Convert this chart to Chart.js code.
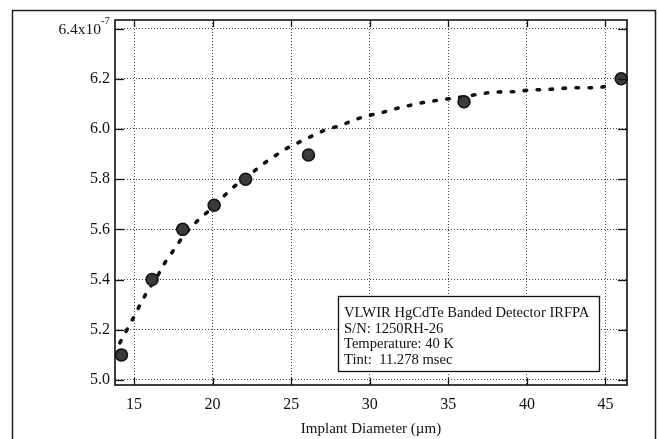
<!DOCTYPE html>
<html><head><meta charset="utf-8">
<script src="https://cdn.jsdelivr.net/npm/chart.js@4.4.0/dist/chart.umd.min.js"></script>
<style>html,body{margin:0;padding:0;background:#fff;}#wrap{width:658px;height:439px;}</style>
</head><body><div id="wrap"><canvas id="c" width="658" height="439"></canvas></div>
<script>
// Measured points (implant diameter in µm, value ×1e-7)
const pointX = [14.2, 16.15, 18.1, 20.1, 22.1, 26.1, 36.0, 46.0];
const pointY = [5.10, 5.40, 5.60, 5.696, 5.80, 5.896, 6.108, 6.20];
// Dashed fit curve
const curveX = [14.1, 14.55, 15.0, 15.45, 15.95, 16.46, 16.97, 17.6, 18.2, 19.0, 19.8, 20.5, 21.4, 22.2, 23.1, 23.85, 24.75, 25.6, 26.4, 27.3, 28.1, 29.0, 29.8, 30.7, 31.6, 32.4, 33.3, 34.1, 35.0, 36.0, 36.7, 37.5, 38.4, 39.3, 40.2, 41.0, 41.9, 42.8, 43.6, 44.5, 45.3];
const curveY = [5.148, 5.20, 5.252, 5.308, 5.364, 5.41, 5.468, 5.524, 5.58, 5.632, 5.676, 5.72, 5.772, 5.808, 5.856, 5.888, 5.924, 5.95, 5.974, 6.0, 6.012, 6.036, 6.052, 6.064, 6.08, 6.092, 6.104, 6.112, 6.12, 6.128, 6.136, 6.144, 6.148, 6.148, 6.156, 6.156, 6.16, 6.164, 6.164, 6.164, 6.172];
const xTicks = [15, 20, 25, 30, 35, 40, 45];
const yTicks = [5.0, 5.2, 5.4, 5.6, 5.8, 6.0, 6.2, 6.4];
const yTopLabel = '6.4x10';
const yTopExp = '-7';
const xTitle = 'Implant Diameter (\u00b5m)';
const legendLines = ['VLWIR HgCdTe Banded Detector IRFPA', 'S/N: 1250RH-26', 'Temperature: 40 K', 'Tint:  11.278 msec'];

const SERIF = '"Liberation Serif", "Times New Roman", serif';

const deco = {
  id: 'deco',
  beforeDraw(chart) {
    const ctx = chart.ctx;
    ctx.save(); ctx.fillStyle = '#fff'; ctx.fillRect(0, 0, chart.width, chart.height); ctx.restore();
  },
  afterDraw(chart) {
    const {ctx, chartArea: a, scales: {x, y}} = chart;
    const line = (x1, y1, x2, y2) => { ctx.beginPath(); ctx.moveTo(x1, y1); ctx.lineTo(x2, y2); ctx.stroke(); };
    ctx.save();
    // outer frame
    ctx.strokeStyle = '#222'; ctx.lineWidth = 1.5;
    ctx.beginPath(); ctx.moveTo(12.5, 445); ctx.lineTo(12.5, 10.5); ctx.lineTo(655.5, 10.5); ctx.lineTo(655.5, 445); ctx.stroke();
    // plot frame
    ctx.strokeStyle = '#111'; ctx.lineWidth = 1.6;
    ctx.strokeRect(a.left, a.top, a.right - a.left, a.bottom - a.top);
    // inward tick marks
    ctx.lineWidth = 1.3;
    xTicks.forEach(v => { const px = Math.round(x.getPixelForValue(v)) + 0.5; line(px, a.bottom, px, a.bottom - 7); line(px, a.top, px, a.top + 7); });
    yTicks.forEach(v => { const py = Math.round(y.getPixelForValue(v)) + 0.5; line(a.left, py, a.left + 9, py); line(a.right, py, a.right - 9, py); });
    // top y label with exponent
    const ty = y.getPixelForValue(6.4);
    ctx.fillStyle = '#111';
    ctx.font = '15.5px ' + SERIF; ctx.textAlign = 'right'; ctx.textBaseline = 'middle';
    ctx.fillText(yTopLabel, a.left - 14, ty + 1);
    ctx.font = '10.5px ' + SERIF; ctx.textAlign = 'left';
    ctx.fillText(yTopExp, a.left - 14, ty - 7);
    // legend box
    const bx = 338.5, by = 296.5, bw = 261, bh = 75;
    ctx.fillStyle = '#fff'; ctx.fillRect(bx, by, bw, bh);
    ctx.strokeStyle = '#111'; ctx.lineWidth = 1.3; ctx.strokeRect(bx, by, bw, bh);
    ctx.fillStyle = '#111'; ctx.font = '14.6px ' + SERIF; ctx.textAlign = 'left'; ctx.textBaseline = 'alphabetic';
    legendLines.forEach((t, i) => ctx.fillText(t, 344, 317 + i * 15.6));
    ctx.restore();
  }
};

new Chart(document.getElementById('c'), {
  type: 'scatter',
  data: {
    datasets: [
      {
        label: 'fit', data: curveX.map((v, i) => ({x: v, y: curveY[i]})),
        showLine: true, borderColor: '#111', borderWidth: 3.6, borderDash: [2.5, 10.5],
        borderCapStyle: 'round', pointRadius: 0, fill: false, tension: 0, order: 2
      },
      {
        label: 'measured', data: pointX.map((v, i) => ({x: v, y: pointY[i]})),
        showLine: false, pointRadius: 6, pointBackgroundColor: '#3a3a3a', pointBorderColor: '#111',
        pointBorderWidth: 1.5, clip: false, order: 1
      }
    ]
  },
  options: {
    responsive: false, animation: false, devicePixelRatio: 1,
    layout: {padding: {left: 0, top: 20, right: 31, bottom: 0}},
    plugins: {legend: {display: false}, tooltip: {enabled: false}, title: {display: false}},
    scales: {
      x: {
        type: 'linear', min: 13.79, max: 46.37,
        afterBuildTicks: s => { s.ticks = xTicks.map(v => ({value: v})); },
        afterFit: s => { s.height = 54; },
        grid: {color: '#444', lineWidth: 1, drawTicks: false},
        border: {display: false, dash: [1, 2]},
        ticks: {color: '#111', font: {family: SERIF, size: 16}, padding: 10, maxRotation: 0, callback: v => String(v)},
        title: {display: true, text: xTitle, color: '#111', font: {family: SERIF, size: 15}, padding: {top: 0, bottom: 1}}
      },
      y: {
        type: 'linear', min: 4.98, max: 6.434,
        afterBuildTicks: s => { s.ticks = yTicks.map(v => ({value: v})); },
        afterFit: s => { s.width = 115; },
        grid: {color: '#444', lineWidth: 1, drawTicks: false},
        border: {display: false, dash: [1, 2]},
        ticks: {color: '#111', font: {family: SERIF, size: 16}, padding: 5, callback: v => Math.abs(v - 6.4) < 1e-6 ? '' : v.toFixed(1)}
      }
    }
  },
  plugins: [deco]
});
</script></body></html>
